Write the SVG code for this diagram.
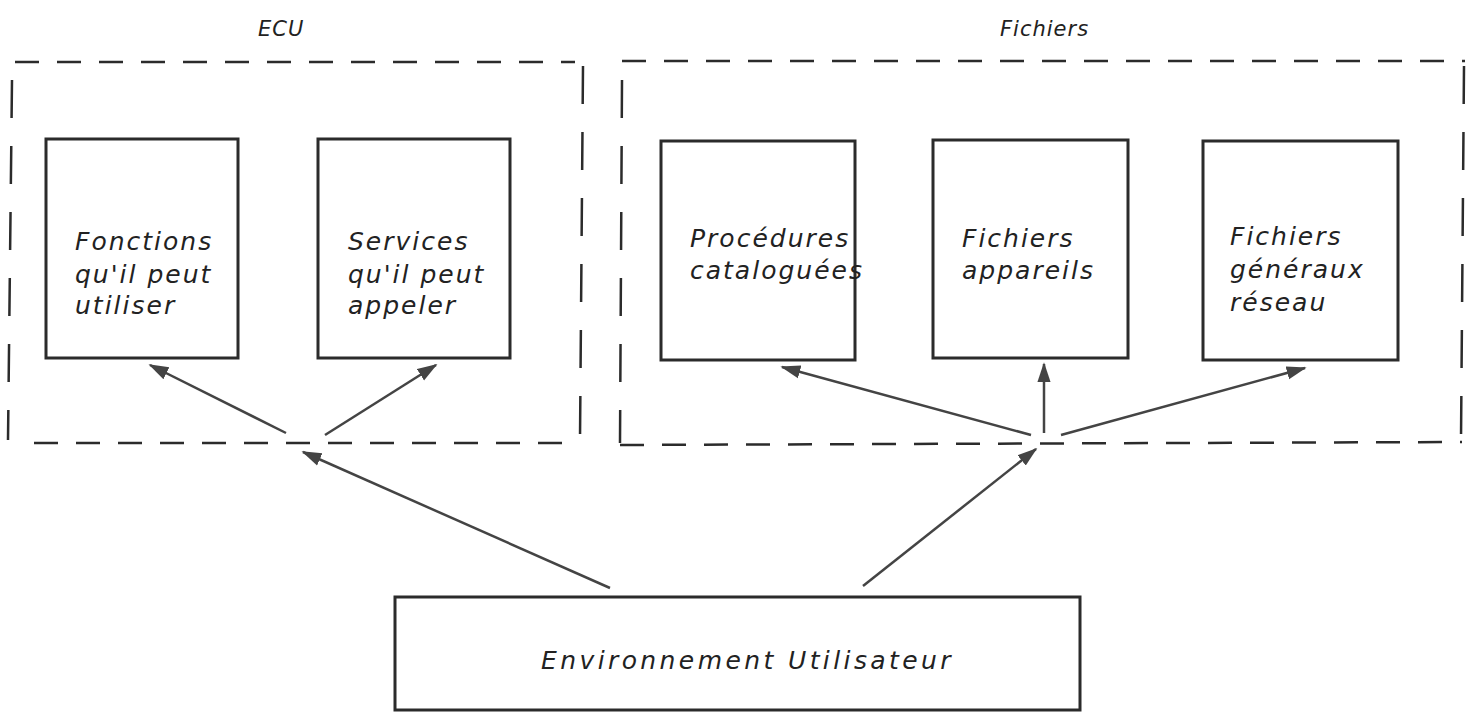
<svg xmlns="http://www.w3.org/2000/svg" width="1475" height="712" viewBox="0 0 1475 712">
  <style>
    .box { fill: none; stroke: #2b2b2b; stroke-width: 3; }
    .frame { fill: none; stroke: #2b2b2b; stroke-width: 2.5; }
    .dash-h { stroke-dasharray: 24 18; }
    .dash-v { stroke-dasharray: 38 28; }
    .lbl { font-family: "DejaVu Sans", "Liberation Sans", sans-serif; font-style: italic; font-size: 25px; letter-spacing: 2px; fill: #222; }
    .title { font-size: 21px; letter-spacing: 1px; }
    .wide { letter-spacing: 3.4px; }
    .arrow { stroke: #444; stroke-width: 2.5; fill: none; marker-end: url(#head); }
  </style>
  <defs>
    <marker id="head" viewBox="0 0 12 8" refX="11" refY="4" markerWidth="8" markerHeight="6" orient="auto" markerUnits="strokeWidth">
      <path d="M0,0 L12,4 L0,8 z" fill="#444"/>
    </marker>
  </defs>
  <rect width="1475" height="712" fill="#ffffff"/>

  <!-- group titles -->
  <text class="lbl title" x="258" y="36">ECU</text>
  <text class="lbl title" x="1000" y="36">Fichiers</text>

  <!-- dashed group frames -->
  <g id="ecu-frame">
    <line class="frame dash-h" x1="15" y1="62" x2="575" y2="62"/>
    <line class="frame dash-v" x1="12" y1="80" x2="8" y2="440"/>
    <line class="frame dash-v" x1="583" y1="66" x2="580" y2="440"/>
    <line class="frame dash-h" x1="34" y1="443" x2="580" y2="443"/>
  </g>
  <g id="fichiers-frame">
    <line class="frame dash-h" x1="622" y1="61" x2="1465" y2="61"/>
    <line class="frame dash-v" x1="622" y1="80" x2="620" y2="443"/>
    <line class="frame dash-v" x1="1464" y1="66" x2="1461" y2="440"/>
    <line class="frame dash-h" x1="620" y1="445" x2="1462" y2="442"/>
  </g>

  <!-- nodes -->
  <g id="fonctions">
    <rect class="box" x="46" y="139" width="192" height="219"/>
    <text class="lbl" x="75" y="250">Fonctions</text>
    <text class="lbl" x="75" y="283">qu'il peut</text>
    <text class="lbl" x="75" y="314">utiliser</text>
  </g>
  <g id="services">
    <rect class="box" x="318" y="139" width="192" height="219"/>
    <text class="lbl" x="348" y="250">Services</text>
    <text class="lbl" x="348" y="283">qu'il peut</text>
    <text class="lbl" x="348" y="314">appeler</text>
  </g>
  <g id="procedures">
    <rect class="box" x="661" y="141" width="194" height="219"/>
    <text class="lbl" x="690" y="247">Procédures</text>
    <text class="lbl" x="690" y="279">cataloguées</text>
  </g>
  <g id="fichiers-appareils">
    <rect class="box" x="933" y="140" width="195" height="218"/>
    <text class="lbl" x="962" y="247">Fichiers</text>
    <text class="lbl" x="962" y="279">appareils</text>
  </g>
  <g id="fichiers-generaux">
    <rect class="box" x="1203" y="141" width="195" height="219"/>
    <text class="lbl" x="1230" y="245">Fichiers</text>
    <text class="lbl" x="1230" y="278">généraux</text>
    <text class="lbl" x="1230" y="311">réseau</text>
  </g>
  <g id="environnement">
    <rect class="box" x="395" y="597" width="685" height="113"/>
    <text class="lbl wide" x="541" y="669">Environnement Utilisateur</text>
  </g>

  <!-- connectors -->
  <g id="connectors">
    <line class="arrow" x1="286" y1="433" x2="150" y2="365"/>
    <line class="arrow" x1="325" y1="435" x2="436" y2="365"/>
    <line class="arrow" x1="610" y1="588" x2="303" y2="452"/>
    <line class="arrow" x1="863" y1="586" x2="1036" y2="449"/>
    <line class="arrow" x1="1031" y1="435" x2="782" y2="367"/>
    <line class="arrow" x1="1044" y1="433" x2="1044" y2="364"/>
    <line class="arrow" x1="1061" y1="435" x2="1305" y2="368"/>
  </g>
</svg>
